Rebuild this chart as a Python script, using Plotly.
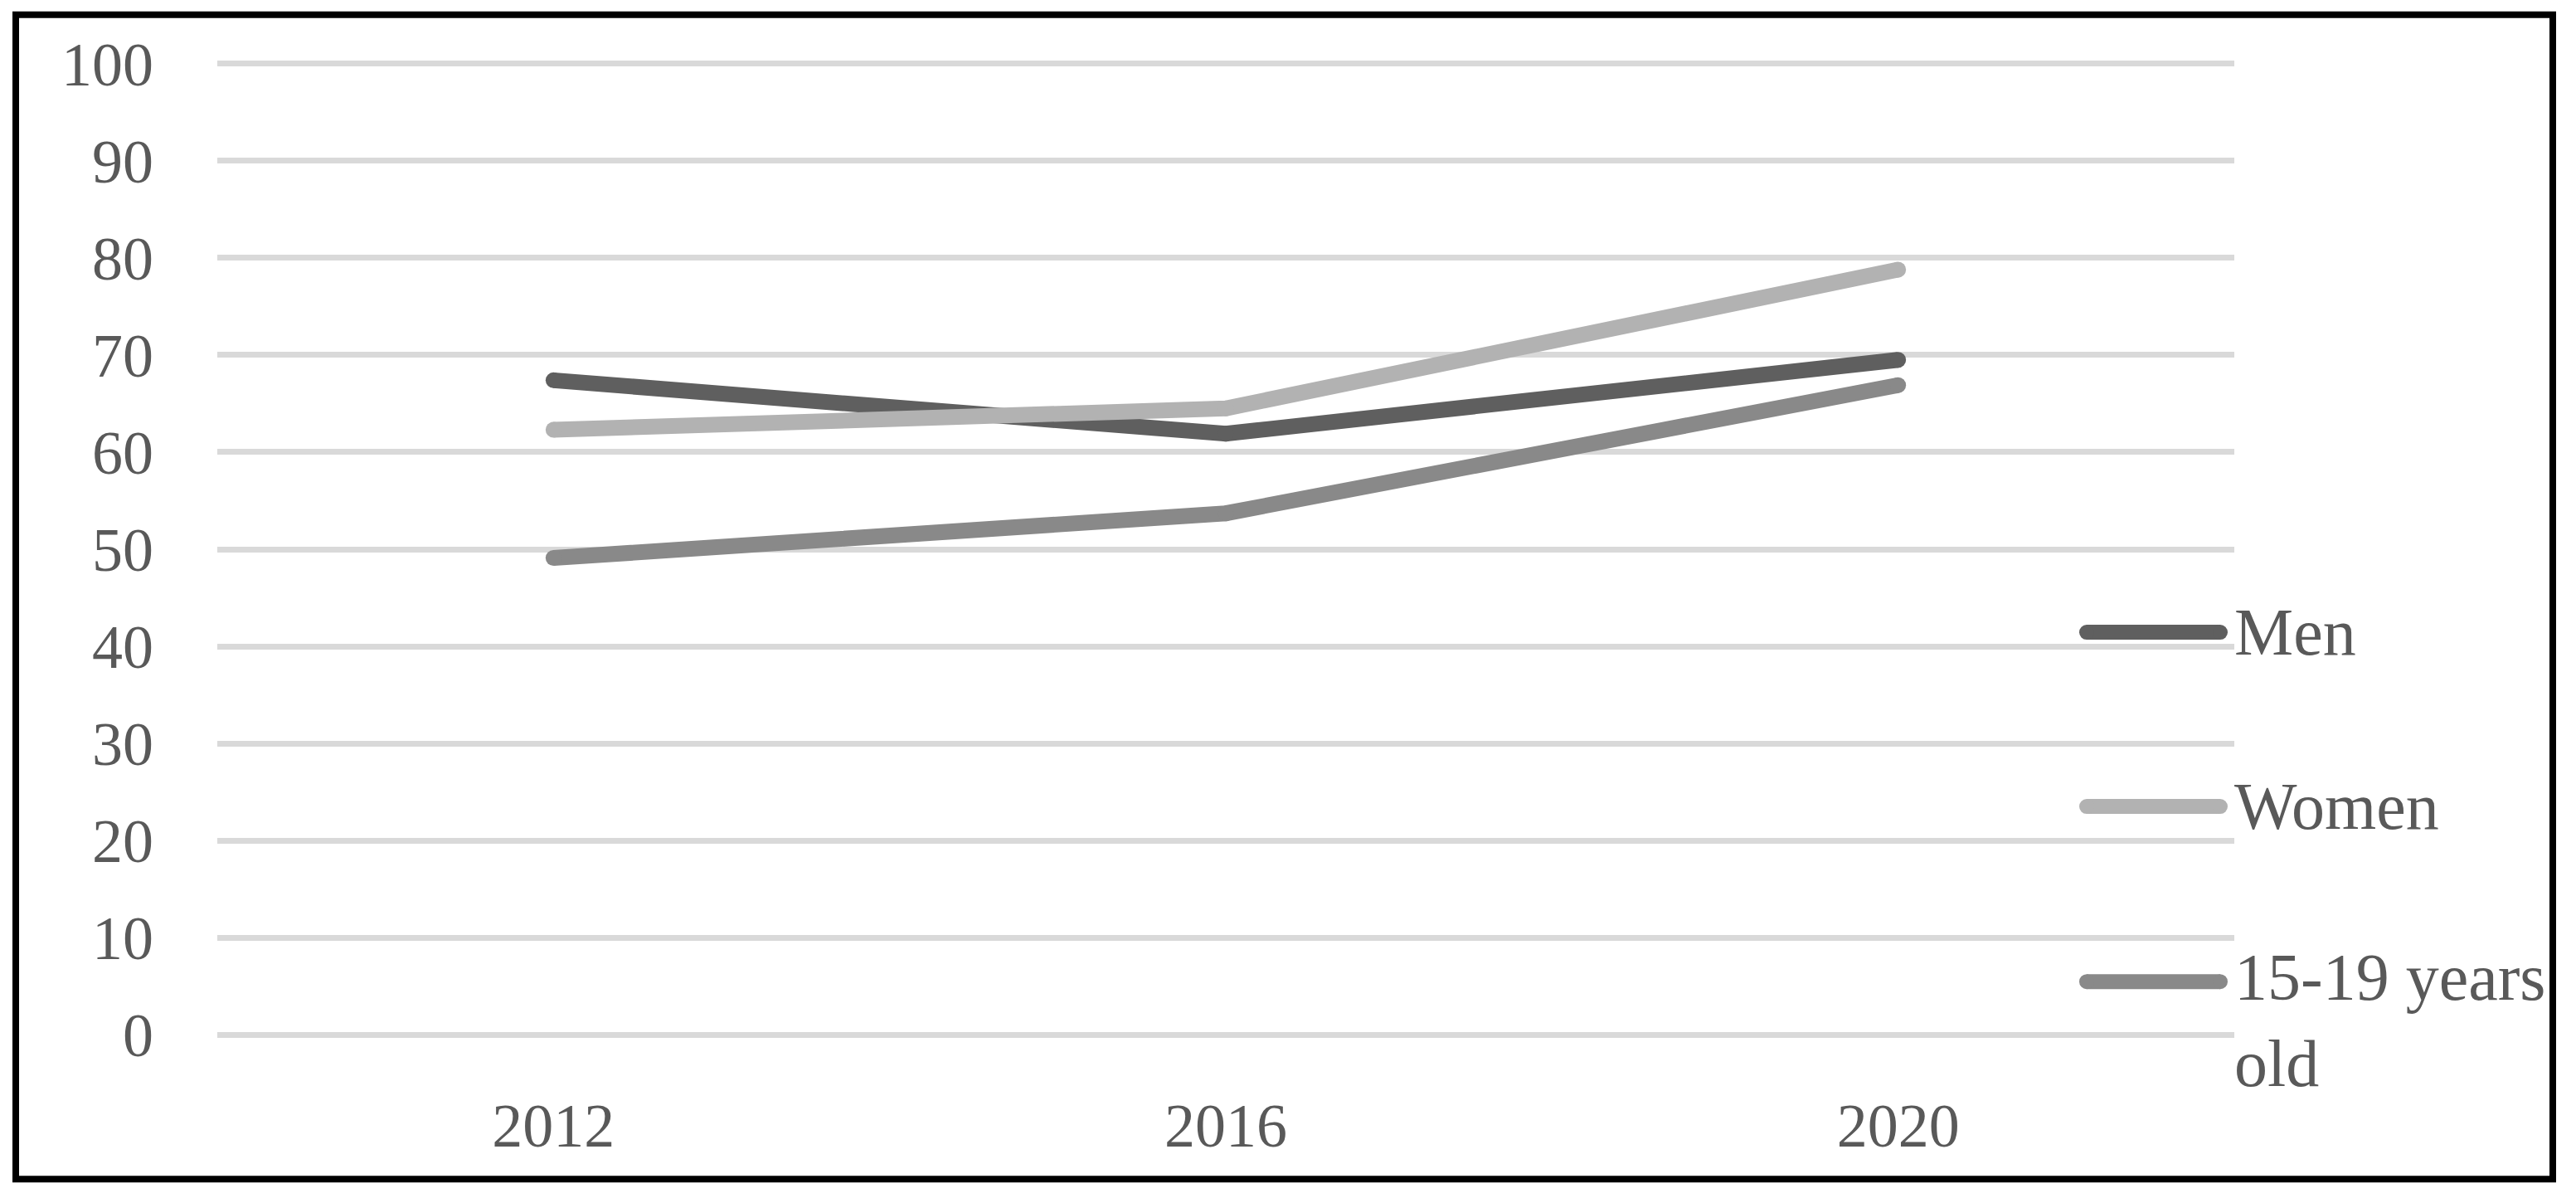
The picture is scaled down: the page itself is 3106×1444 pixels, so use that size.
import plotly.graph_objects as go

# ----------------------------------------------------------
# DATA
# ----------------------------------------------------------
years = ["2012", "2016", "2020"]
men = [67.4, 61.9, 69.5]
women = [62.3, 64.5, 78.8]
teens = [49.1, 53.7, 66.9]

series_names = ["Men", "Women", "15-19 years<br>old"]
y_ticks = [0, 10, 20, 30, 40, 50, 60, 70, 80, 90, 100]

# ----------------------------------------------------------
# STYLE
# ----------------------------------------------------------
W, H = 3106, 1444
# pixel rows of the 100 and 0 grid lines, columns of the category band
Y100_PX, Y0_PX = 77, 1247
PLOT_L, PLOT_R = 262, 2694
Y_PAD = 0.5                                   # keeps the edge grid lines visible
UNIT_PX = (Y0_PX - Y100_PX) / 100
PLOT_T = Y100_PX - Y_PAD * UNIT_PX
PLOT_B = Y0_PX + Y_PAD * UNIT_PX

FONT = "Liberation Serif"
TEXT = "#595959"
GRID = "#D9D9D9"
COLORS = ["#5F5F5F", "#B2B2B2", "#898989"]
LINE_W = 19


def px_x(px):
    return (px - PLOT_L) / (PLOT_R - PLOT_L)


def px_y(py):
    return (PLOT_B - py) / (PLOT_B - PLOT_T)


fig = go.Figure()

for name, vals, color in zip(series_names, [men, women, teens], COLORS):
    fig.add_trace(
        go.Scatter(
            x=years,
            y=vals,
            name=name,
            mode="lines+markers",
            line=dict(color=color, width=LINE_W),
            marker=dict(color=color, size=LINE_W, line=dict(width=0)),
            showlegend=False,
        )
    )

# outer frame
shapes = [
    dict(
        type="rect", xref="paper", yref="paper",
        x0=px_x(19), x1=px_x(3078), y0=px_y(1421), y1=px_y(18),
        line=dict(color="black", width=8),
    )
]

# legend drawn by hand (long keys, right side)
annotations = []
key_y = [762, 972, 1183]
key_x0, key_x1 = 2516, 2677
for name, color, ky in zip(series_names, COLORS, key_y):
    shapes.append(dict(
        type="line", xref="paper", yref="paper",
        x0=px_x(key_x0), x1=px_x(key_x1), y0=px_y(ky), y1=px_y(ky),
        line=dict(color=color, width=18),
    ))
    for kx in (key_x0, key_x1):
        shapes.append(dict(
            type="circle", xref="paper", yref="paper",
            xsizemode="pixel", ysizemode="pixel",
            xanchor=px_x(kx), yanchor=px_y(ky),
            x0=-9, x1=9, y0=-9, y1=9,
            fillcolor=color, line=dict(width=0),
        ))
    multi = "<br>" in name
    annotations.append(dict(
        xref="paper", yref="paper",
        x=px_x(2692), y=px_y(ky - 51) if multi else px_y(ky),
        xanchor="left", yanchor="top" if multi else "middle",
        text=name, showarrow=False, align="left",
        font=dict(family=FONT, size=80, color=TEXT),
    ))

fig.update_layout(
    width=W,
    height=H,
    margin=dict(l=PLOT_L, r=W - PLOT_R, t=PLOT_T, b=H - PLOT_B),
    paper_bgcolor="white",
    plot_bgcolor="white",
    showlegend=False,
    font=dict(family=FONT, size=74, color=TEXT),
    shapes=shapes,
    annotations=annotations,
)

fig.update_xaxes(
    type="category",
    range=[-0.5, 2.5],
    showgrid=False,
    zeroline=False,
    showline=False,
    ticks="",
    ticklabelstandoff=54,
    tickfont=dict(family=FONT, size=74, color=TEXT),
)

fig.update_yaxes(
    range=[-Y_PAD, 100 + Y_PAD],
    tickvals=y_ticks,
    showgrid=True,
    gridcolor=GRID,
    gridwidth=7,
    zeroline=False,
    showline=False,
    ticks="",
    ticklabelstandoff=76,
    tickfont=dict(family=FONT, size=74, color=TEXT),
)

fig.write_html(
    "out.html",
    config={"displayModeBar": False},
    post_script="document.body.style.margin='0';",
)
